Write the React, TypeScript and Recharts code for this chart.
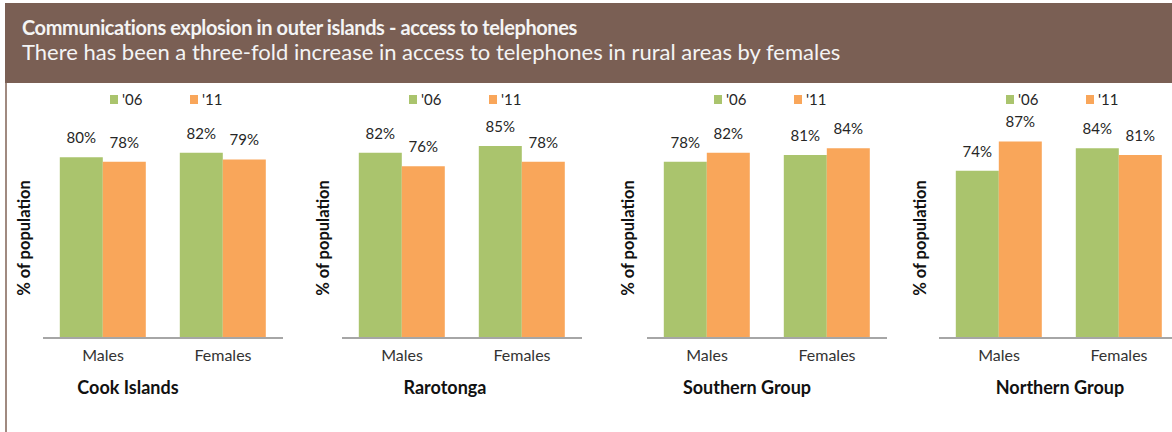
import { BarChart, Bar, XAxis, YAxis, Legend, LabelList } from "recharts";

const categories = ["Males", "Females"];
const regions = ["Cook Islands", "Rarotonga", "Southern Group", "Northern Group"];
const seriesNames = ["'06", "'11"];
const values06 = [
  [80, 82],
  [82, 85],
  [78, 81],
  [74, 84],
];
const values11 = [
  [78, 79],
  [76, 78],
  [82, 84],
  [87, 81],
];

const GREEN = "#aac46d";
const ORANGE = "#f9a65a";
const FONT = "Lato, 'Open Sans', sans-serif";

// left edge of each plot area on the page, and title nudge from plot centre
const plotLefts = [43, 342, 647, 939];
const titleShift = [-35, -17, -20, 1];

function LegendBox() {
  const colors = [GREEN, ORANGE];
  return (
    <div style={{ display: "flex", fontFamily: FONT, fontSize: 15, color: "#262626", lineHeight: "18px" }}>
      {seriesNames.map((s, i) => (
        <div key={s} style={{ width: 80, display: "flex", alignItems: "center" }}>
          <span style={{ width: 8, height: 9, background: colors[i], marginRight: 4, display: "inline-block" }} />
          <span>{s}</span>
        </div>
      ))}
    </div>
  );
}

function Panel({ idx }: { idx: number }) {
  const data = categories.map((name, j) => ({
    name,
    y06: values06[idx][j],
    y11: values11[idx][j],
  }));

  const yLabel = (props: any) => {
    const vb = props.viewBox;
    const cx = vb.x + vb.width / 2 + 1;
    const cy = vb.y + vb.height / 2 + 13;
    return (
      <text
        x={cx}
        y={cy}
        transform={`rotate(-90 ${cx} ${cy})`}
        textAnchor="middle"
        dominantBaseline="central"
        fontFamily={FONT}
        fontWeight="bold"
        fontSize={16.5}
        fill="#111"
      >
        % of population
      </text>
    );
  };

  const title = (props: any) => {
    const vb = props.viewBox;
    return (
      <text
        x={vb.x + vb.width / 2 + titleShift[idx]}
        y={vb.y + 56}
        textAnchor="middle"
        fontFamily={FONT}
        fontWeight="bold"
        fontSize={18}
        fill="#111"
      >
        {regions[idx]}
      </text>
    );
  };

  return (
    <div style={{ position: "absolute", left: plotLefts[idx] - 40, top: 83 }}>
      <BarChart
        width={280}
        height={349}
        data={data}
        barCategoryGap="14%"
        barGap={0}
        margin={{ top: 29, right: 0, left: 0, bottom: 0 }}
      >
        <XAxis
          dataKey="name"
          height={94}
          axisLine={{ stroke: "#a6a6a6", strokeWidth: 2 }}
          tickLine={false}
          tickSize={0}
          tickMargin={12}
          tick={{ fontFamily: FONT, fontSize: 16, fill: "#333" }}
          label={title}
        />
        <YAxis
          width={40}
          domain={[0, 100]}
          tick={false}
          axisLine={false}
          tickLine={false}
          label={yLabel}
        />
        <Legend
          verticalAlign="middle"
          align="center"
          content={() => <LegendBox />}
          wrapperStyle={{ top: 7, left: 107, width: 170, height: 18 }}
        />
        <Bar dataKey="y06" name={seriesNames[0]} fill={GREEN} isAnimationActive={false}>
          <LabelList
            dataKey="y06"
            position="top"
            offset={14}
            formatter={(v: any) => `${v}%`}
            style={{ fontFamily: FONT, fontSize: 15, fill: "#262626" }}
          />
        </Bar>
        <Bar dataKey="y11" name={seriesNames[1]} fill={ORANGE} isAnimationActive={false}>
          <LabelList
            dataKey="y11"
            position="top"
            offset={14}
            formatter={(v: any) => `${v}%`}
            style={{ fontFamily: FONT, fontSize: 15, fill: "#262626" }}
          />
        </Bar>
      </BarChart>
    </div>
  );
}

export default function App() {
  return (
    <div
      style={{
        position: "absolute",
        left: 0,
        top: 0,
        width: 1172,
        height: 432,
        overflow: "hidden",
        background: "#fff",
      }}
    >
      <div
        style={{
          position: "absolute",
          left: 5,
          top: 3,
          width: 1167,
          height: 80,
          background: "#7a5f54",
          color: "#f4f4f4",
          fontFamily: FONT,
        }}
      >
        <div
          style={{
            position: "absolute",
            left: 17,
            top: 12,
            fontSize: 20,
            fontWeight: "bold",
            letterSpacing: -0.4,
            whiteSpace: "nowrap",
          }}
        >
          Communications explosion in outer islands - access to telephones
        </div>
        <div style={{ position: "absolute", left: 17, top: 35, fontSize: 22, whiteSpace: "nowrap" }}>
          There has been a three-fold increase in access to telephones in rural areas by females
        </div>
      </div>
      <div style={{ position: "absolute", left: 5, top: 83, width: 2, height: 349, background: "#a08a80" }} />
      {regions.map((r, i) => (
        <Panel key={r} idx={i} />
      ))}
    </div>
  );
}
